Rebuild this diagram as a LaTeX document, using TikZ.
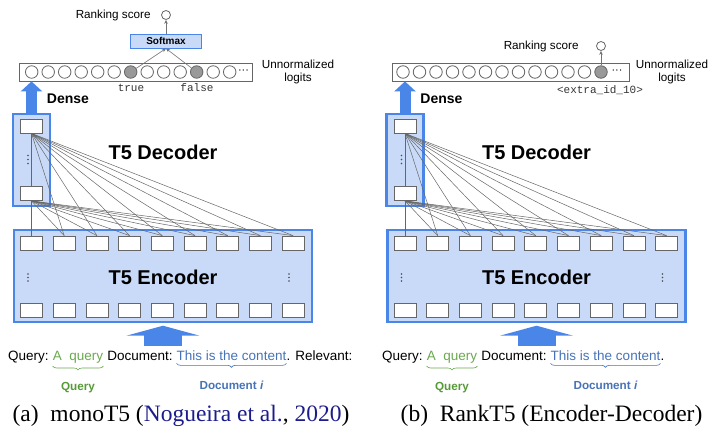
\documentclass[tikz,border=0pt]{standalone}
\usepackage{fontspec}
\setmainfont{Liberation Sans}
\newfontfamily\capfont{Liberation Serif}
\newfontfamily\codefont{Liberation Mono}
\usetikzlibrary{decorations.pathreplacing,arrows.meta,calc}
\pgfdeclarelayer{back}
\pgfdeclarelayer{mid}
\pgfsetlayers{back,mid,main}

\definecolor{tfborder}{HTML}{4A86E8}
\definecolor{tffill}{HTML}{C9DAF8}
\definecolor{qgreen}{HTML}{6AA84F}
\definecolor{qgreendk}{HTML}{559A37}
\definecolor{dblue}{HTML}{4673B8}
\definecolor{citeblue}{HTML}{1C1C8C}
\definecolor{cellgray}{HTML}{666666}
\definecolor{hotgray}{HTML}{999999}

% a word space that survives at the edge of a node
\newcommand\wsp{\kern0.278em}

\tikzset{
  block/.style={draw=tfborder, line width=2.4pt, fill=tffill, inner sep=0pt},
  cell/.style={draw=cellgray, line width=0.8pt, fill=white,
    minimum width=22pt, minimum height=14pt, inner sep=0pt},
  logit/.style={circle, draw=cellgray, line width=0.8pt, fill=white,
    minimum size=12.5pt, inner sep=0pt},
  hot/.style={logit, fill=hotgray},
  attn/.style={draw=black!60, line width=0.5pt},
  thinarrow/.style={draw=black!55, line width=0.6pt, -{Stealth[length=4pt,width=3.5pt]}},
  bigtitle/.style={font=\bfseries\fontsize{20}{24}\selectfont},
  small/.style={font=\fontsize{11.7}{13}\selectfont},
  code/.style={font=\codefont\fontsize{11}{12}\selectfont, text=black!80},
  seq/.style={anchor=base west, inner sep=0pt, font=\fontsize{13.5}{16}\selectfont},
  bracelabel/.style={font=\bfseries\fontsize{11.7}{14}\selectfont},
  capt/.style={anchor=base, inner sep=0pt, font=\capfont\fontsize{23.5}{28}\selectfont},
}

% Decoder column, encoder block, cross-attention wires and the two fat arrows.
% #1 = name prefix, #2 = horizontal offset of the panel
\newcommand\tfstack[2]{%
  \begin{scope}[xshift=#2]
    \begin{pgfonlayer}{back}
      \node[block, minimum width=37pt, minimum height=92pt] (#1dec) at (31.5,160) {};
      \node[block, minimum width=298pt, minimum height=92pt] (#1enc) at (163,276) {};
    \end{pgfonlayer}
    \node[cell] (#1dt) at (31.5,126) {};
    \node[cell] (#1db) at (31.5,193.5) {};
    \foreach \i in {1,...,9} {
      \node[cell] (#1e\i) at ({31.5+32.7*(\i-1)},243) {};
      \node[cell] (#1b\i) at ({31.5+32.7*(\i-1)},310) {};
    }
    \begin{pgfonlayer}{mid}
      \foreach \i in {1,...,9} {
        \draw[attn] (#1dt.south) -- (#1e\i.north);
        \draw[attn] (#1db.south) -- (#1e\i.north);
      }
    \end{pgfonlayer}
    \foreach \y in {155.5,159.5,163.5} \fill[black!70] (28,\y) circle (0.8);
    \foreach \y in {274,277.5,281} {
      \fill[black!70] (28,\y) circle (0.8);
      \fill[black!70] (289,\y) circle (0.8);
    }
    \node[bigtitle] (#1dlabel) at (163,152) {T5 Decoder};
    \node[bigtitle] (#1elabel) at (163,277) {T5 Encoder};
    % Dense projection up to the vocabulary logits
    \draw[tfborder, line width=11pt, -{Triangle[width=21pt,length=10pt]}]
      (#1dec.north) -- (#1dec.north |- #1bar.south);
    \node[font=\bfseries\fontsize{14}{16}\selectfont] (#1dense) at (68,99) {Dense};
    % Input sequence into the encoder
    \coordinate (#1in) at (163,346);
    \draw[tfborder, line width=38pt, -{Triangle[width=73pt,length=10pt]}]
      (#1in) -- ([yshift=-2.5pt]#1enc.south);
  \end{scope}}

% Input text with braces under query and document.  #1 prefix, #2 start x, #3 trailing text
\newcommand\inputline[3]{%
  \node[seq] (#1t1) at (#2,360) {Query:\wsp};
  \node[seq, text=qgreen] (#1tq) at (#1t1.base east) {A\wsp\wsp query};
  \node[seq] (#1t2) at (#1tq.base east) {\wsp Document:\wsp};
  \node[seq, text=dblue] (#1td) at (#1t2.base east) {This is the content};
  \node[seq] (#1t3) at (#1td.base east) {.#3};
  \draw[qgreen, line width=0.6pt, decorate, decoration={brace, mirror, amplitude=4pt}]
    ([yshift=-3pt]#1tq.south west) -- ([yshift=-3pt]#1tq.south east);
  \draw[dblue, line width=0.6pt, decorate, decoration={brace, mirror, amplitude=4pt}]
    ([yshift=-3pt]#1td.south west) -- ([yshift=-3pt]#1td.south east);
  \node[bracelabel, text=qgreendk] (#1lq) at ($(#1tq.south)+(0,25)$) {Query};
  \node[bracelabel, text=dblue] (#1ld) at ($(#1td.south)+(0,25)$) {Document \textit{i}};}

\begin{document}
\begin{tikzpicture}[x=1pt, y=-1pt]
\useasboundingbox (0,0) rectangle (710,434);

% ---------------- (a) monoT5 ----------------
\node[draw=cellgray, line width=0.8pt, minimum width=233pt, minimum height=18pt, inner sep=0pt]
  (Abar) at (135.5,72) {};
\foreach \i in {0,...,12} {
  \ifnum\i=6 \def\sty{hot}\else\ifnum\i=10 \def\sty{hot}\else\def\sty{logit}\fi\fi
  \node[\sty] (Al\i) at ({31.7+16.5*\i},72) {};
}
\node[inner sep=0pt, font=\fontsize{11}{11}\selectfont] (Adots) at (243.5,72) {···};
\node[code] (Atrue) at (131,88) {true};
\node[code] (Afalse) at (197,88) {false};
\node[draw=tfborder, line width=1pt, fill=tffill, minimum width=71pt, minimum height=14pt,
  inner sep=0pt, font=\bfseries\fontsize{10}{12}\selectfont] (Asmax) at (166,41) {Softmax};
\draw[thinarrow] (Al6) -- (Asmax.south);
\draw[thinarrow] (Al10) -- (Asmax.south);
\node[logit, minimum size=9pt] (Ascore) at (166,15) {};
\draw[thinarrow] (Asmax.north) -- (Ascore);
\node[small, anchor=east] (Arank) at ($(Ascore.west)+(-7,0)$) {Ranking score};
\node[small, align=center] (Aunn) at (298,71.5) {Unnormalized\\logits};

\tfstack{A}{0pt}
\inputline{A}{8}{ Relevant:}
\node[capt] (Acap) at (181,421)
  {(a)\enspace monoT5 (\textcolor{citeblue}{Nogueira et al.}, \textcolor{citeblue}{2020})};

% ---------------- (b) RankT5 ----------------
\node[draw=cellgray, line width=0.8pt, minimum width=237pt, minimum height=18pt, inner sep=0pt]
  (Bbar) at (510.5,72) {};
\foreach \i in {0,...,12} {
  \ifnum\i=12 \def\sty{hot}\else\def\sty{logit}\fi
  \node[\sty] (Bl\i) at ({403+16.5*\i},72) {};
}
\node[inner sep=0pt, font=\fontsize{11}{11}\selectfont] (Bdots) at (617,72) {···};
\node[code] (Bextra) at (600,90) {<extra\_id\_10>};
\node[logit, minimum size=9pt] (Bscore) at (601,46) {};
\draw[thinarrow] (Bl12) -- (Bscore);
\node[small, anchor=east] (Brank) at ($(Bscore.west)+(-14,0)$) {Ranking score};
\node[small, align=center] (Bunn) at (672,71.5) {Unnormalized\\logits};

\tfstack{B}{373.5pt}
\inputline{B}{382}{}
\node[capt] (Bcap) at (551.5,421) {(b)\enspace RankT5 (Encoder-Decoder)};
\end{tikzpicture}
\end{document}
